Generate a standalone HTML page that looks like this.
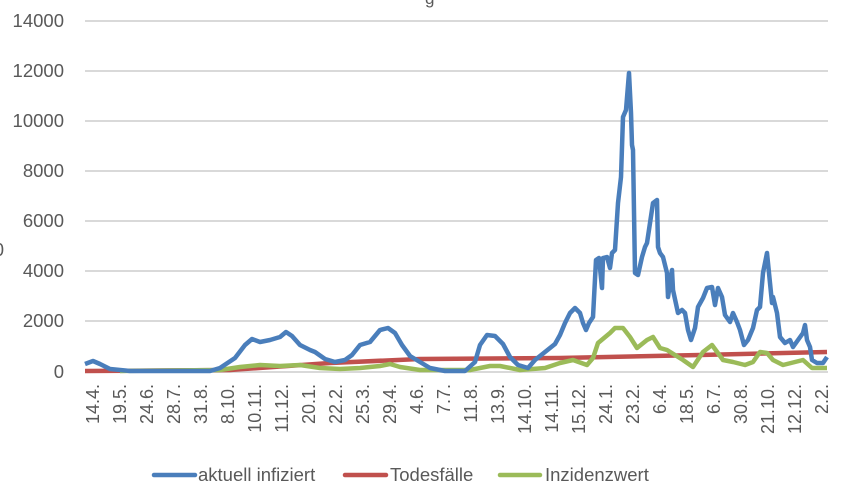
<!DOCTYPE html>
<html><head><meta charset="utf-8"><style>
body{margin:0;background:#fff;}
svg{display:block;font-family:"Liberation Sans",sans-serif;}
</style></head><body>
<svg width="844" height="503" viewBox="0 0 844 503" xmlns="http://www.w3.org/2000/svg">
<g stroke="#d9d9d9" stroke-width="2">
<line x1="85" y1="21" x2="828" y2="21"/><line x1="85" y1="71" x2="828" y2="71"/>
<line x1="85" y1="121" x2="828" y2="121"/><line x1="85" y1="171" x2="828" y2="171"/>
<line x1="85" y1="221" x2="828" y2="221"/><line x1="85" y1="271" x2="828" y2="271"/>
<line x1="85" y1="321" x2="828" y2="321"/><line x1="85" y1="372" x2="828" y2="372"/>
</g>
<g fill="#595959" font-size="18.5" text-anchor="end">
<text x="64" y="27">14000</text><text x="64" y="77">12000</text><text x="64" y="127">10000</text>
<text x="64" y="177">8000</text><text x="64" y="227">6000</text><text x="64" y="277">4000</text>
<text x="64" y="327">2000</text><text x="64" y="378">0</text>
<text x="4" y="256">0</text>
</g>
<text x="425" y="4" fill="#595959" font-size="17">g</text>
<polyline fill="none" stroke="#c0504d" stroke-width="4.5" stroke-linejoin="round" points="85,371 230,370 330,363 420,359 560,358 700,355 827,352"/>
<polyline fill="none" stroke="#9bbb59" stroke-width="4.5" stroke-linejoin="round" points="120,371 220,370 240,367 260,365 280,366 300,365 320,368 340,369 360,368 380,366 390,364 400,367 420,370 470,370 490,366 500,366 520,370 545,368 560,363 573,360 587,365 593,358 598,343 610,333 615,328 623,328 630,337 637,348 647,340 653,337 660,348 667,350 675,355 683,360 693,367 703,352 712,345 723,360 733,362 745,365 753,362 760,352 767,353 773,360 783,365 803,360 812,368 827,368"/>
<polyline fill="none" stroke="#4a7ebb" stroke-width="4.5" stroke-linejoin="round" points="85,364 93,361 100,364 110,369 130,371 210,371 220,368 235,358 245,345 252,339 260,342 270,340 280,337 286,332 292,336 300,345 310,350 315,352 325,359 335,362 345,360 352,355 360,345 370,342 380,330 388,328 395,333 402,345 410,356 420,362 430,368 445,371 465,371 475,362 480,345 487,335 495,336 503,344 510,357 518,365 528,368 535,360 545,352 555,344 560,335 565,323 570,313 575,308 580,313 583,323 586,330 589,323 593,317 596,260 599,258 602,288 603,258 607,257 610,268 612,253 615,250 618,203 621,177 623,117 626,110 629,73 631,113 632,145 633,150 635,273 638,275 642,257 645,247 647,243 650,223 653,203 657,200 658,247 660,253 663,257 667,273 668,297 672,270 673,290 678,313 682,310 685,313 688,330 691,340 695,328 698,307 703,298 707,288 712,287 715,305 718,288 722,297 725,315 730,322 733,313 737,322 740,330 744,345 748,340 753,328 757,310 760,307 763,273 767,253 770,283 772,303 773,297 777,313 780,337 785,343 790,340 793,347 798,340 803,333 805,325 807,340 810,347 812,360 817,363 823,363 827,357"/>
<g fill="#595959" font-size="18.5">
<line x1="154" y1="475" x2="195" y2="475" stroke="#4a7ebb" stroke-width="4.5" stroke-linecap="round"/>
<text x="198" y="481">aktuell infiziert</text>
<line x1="345" y1="475" x2="386" y2="475" stroke="#c0504d" stroke-width="4.5" stroke-linecap="round"/>
<text x="390" y="481">Todesfälle</text>
<line x1="500" y1="475" x2="540" y2="475" stroke="#9bbb59" stroke-width="4.5" stroke-linecap="round"/>
<text x="545" y="481">Inzidenzwert</text>
</g>
<g fill="#595959" font-size="18" text-anchor="end">
<text transform="translate(99,384) rotate(-90)">14.4.</text>
<text transform="translate(126,384) rotate(-90)">19.5.</text>
<text transform="translate(153,384) rotate(-90)">24.6.</text>
<text transform="translate(180,384) rotate(-90)">28.7.</text>
<text transform="translate(207,384) rotate(-90)">31.8.</text>
<text transform="translate(234,384) rotate(-90)">8.10.</text>
<text transform="translate(261,384) rotate(-90)">10.11.</text>
<text transform="translate(288,384) rotate(-90)">11.12.</text>
<text transform="translate(315,384) rotate(-90)">20.1.</text>
<text transform="translate(342,384) rotate(-90)">22.2.</text>
<text transform="translate(369,384) rotate(-90)">25.3.</text>
<text transform="translate(396,384) rotate(-90)">29.4.</text>
<text transform="translate(423,384) rotate(-90)">4.6.</text>
<text transform="translate(450,384) rotate(-90)">7.7.</text>
<text transform="translate(477,384) rotate(-90)">11.8.</text>
<text transform="translate(504,384) rotate(-90)">13.9.</text>
<text transform="translate(531,384) rotate(-90)">14.10.</text>
<text transform="translate(558,384) rotate(-90)">14.11.</text>
<text transform="translate(585,384) rotate(-90)">15.12.</text>
<text transform="translate(612,384) rotate(-90)">24.1.</text>
<text transform="translate(639,384) rotate(-90)">23.2.</text>
<text transform="translate(666,384) rotate(-90)">6.4.</text>
<text transform="translate(693,384) rotate(-90)">18.5.</text>
<text transform="translate(720,384) rotate(-90)">6.7.</text>
<text transform="translate(747,384) rotate(-90)">30.8.</text>
<text transform="translate(774,384) rotate(-90)">21.10.</text>
<text transform="translate(801,384) rotate(-90)">12.12.</text>
<text transform="translate(828,384) rotate(-90)">2.2.</text>
</g>
</svg>
</body></html>
